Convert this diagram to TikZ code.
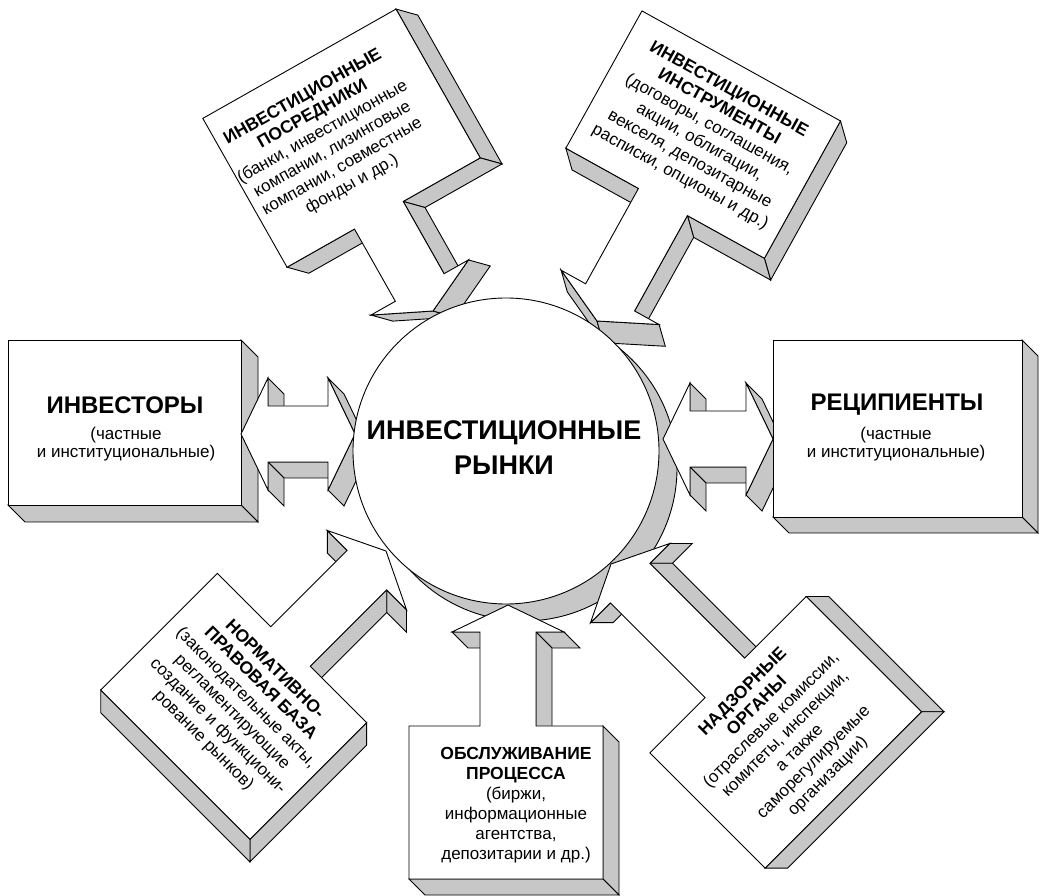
\documentclass[tikz,border=0pt]{standalone}
\usepackage{fontspec}
\setmainfont{Liberation Sans}
\usepackage{tikz}

% extruded box: lower left (#1,#2), upper right (#3,#4), depth #5
\newcommand{\solidbox}[5]{%
  \draw[sideface] (#3,#4) -- (#3,#2) -- (#3+#5,#2-#5) -- (#3+#5,#4-#5) -- cycle;
  \draw[sideface] (#3,#2) -- (#1,#2) -- (#1+#5,#2-#5) -- (#3+#5,#2-#5) -- cycle;
  \draw[frontface] (#1,#2) rectangle (#3,#4);
}

% double block arrow, half length #1
\newcommand{\dblarrow}[1]{%
  \draw[sideface] (-#1+27,56) -- (-#1+27,28) -- (-#1+43,12) -- (-#1+43,40) -- cycle;
  \draw[sideface] (#1-27,56) -- (#1,0) -- (#1+16,-16) -- (#1-11,40) -- cycle;
  \draw[sideface] (#1-27,-28) -- (-#1+27,-28) -- (-#1+43,-44) -- (#1-11,-44) -- cycle;
  \draw[sideface] (-#1+27,-28) -- (-#1+27,-56) -- (-#1+43,-72) -- (-#1+43,-44) -- cycle;
  \draw[sideface] (#1,0) -- (#1-27,-56) -- (#1-11,-72) -- (#1+16,-16) -- cycle;
  \draw[frontface] (-#1,0) -- (-#1+27,56) -- (-#1+27,28) -- (#1-27,28) -- (#1-27,56) -- (#1,0)
    -- (#1-27,-56) -- (#1-27,-28) -- (-#1+27,-28) -- (-#1+27,-56) -- cycle;
}

% sign below the tip: box from #1 to #2, height #3, stem #4
\newcommand{\signup}[4]{%
  \pgfmathsetmacro{\sgyb}{-27-#4}
  \pgfmathsetmacro{\sgyl}{\sgyb-#3}
  \draw[sideface] (56,-27) -- (28,-27) -- (44,-43) -- (72,-43) -- cycle;
  \draw[sideface] (-28,-27) -- (-56,-27) -- (-40,-43) -- (-12,-43) -- cycle;
  \draw[sideface] (28,-27) -- (28,\sgyb) -- (44,\sgyb-16) -- (44,-43) -- cycle;
  \draw[sideface] (#2,\sgyb) -- (#2,\sgyl) -- (#2+16,\sgyl-16) -- (#2+16,\sgyb-16) -- cycle;
  \draw[sideface] (#2,\sgyl) -- (#1,\sgyl) -- (#1+16,\sgyl-16) -- (#2+16,\sgyl-16) -- cycle;
  \draw[frontface] (0,0) -- (56,-27) -- (28,-27) -- (28,\sgyb) -- (#2,\sgyb) -- (#2,\sgyl)
    -- (#1,\sgyl) -- (#1,\sgyb) -- (-28,\sgyb) -- (-28,-27) -- (-56,-27) -- cycle;
}

% sign above the tip: box from #1 to #2, height #3, stem #4
\newcommand{\signdown}[4]{%
  \pgfmathsetmacro{\sgyb}{27+#4}
  \pgfmathsetmacro{\sgyt}{\sgyb+#3}
  \draw[sideface] (0,0) -- (-56,27) -- (-40,11) -- (16,-16) -- cycle;
  \draw[sideface] (-28,\sgyb) -- (#1,\sgyb) -- (#1+16,\sgyb-16) -- (-12,\sgyb-16) -- cycle;
  \draw[sideface] (#2,\sgyt) -- (#2,\sgyb) -- (#2+16,\sgyb-16) -- (#2+16,\sgyt-16) -- cycle;
  \draw[sideface] (#2,\sgyb) -- (28,\sgyb) -- (44,\sgyb-16) -- (#2+16,\sgyb-16) -- cycle;
  \draw[sideface] (28,\sgyb) -- (28,27) -- (44,11) -- (44,\sgyb-16) -- cycle;
  \draw[sideface] (56,27) -- (0,0) -- (16,-16) -- (72,11) -- cycle;
  \draw[frontface] (0,0) -- (-56,27) -- (-28,27) -- (-28,\sgyb) -- (#1,\sgyb) -- (#1,\sgyt)
    -- (#2,\sgyt) -- (#2,\sgyb) -- (28,\sgyb) -- (28,27) -- (56,27) -- cycle;
}

\newcommand{\signhead}[1]{{\fontsize{17.5}{20}\selectfont\bfseries #1}}

\begin{document}
\begin{tikzpicture}[x=1pt, y=1pt,
    frontface/.style={draw, fill=white, line width=0.9pt, line join=miter},
    sideface/.style={draw, fill=black!22, line width=0.9pt, line join=miter},
    boxtitle/.style={font=\fontsize{24}{28}\selectfont\bfseries, inner sep=0pt},
    boxnote/.style={font=\fontsize{17}{18}\selectfont, align=center, inner sep=0pt},
    midtext/.style={font=\fontsize{27}{35}\selectfont\bfseries, align=center, inner sep=0pt},
    signtext/.style={font=\fontsize{17}{20}\selectfont, align=center, inner sep=0pt}]
    \fill[white] (0,0) rectangle (1042,895);
    \useasboundingbox (0,0) rectangle (1042,895);

    % investors
    \solidbox{8}{390}{241}{555}{17}
    \begin{scope}[shift={(298,461)}]
      \dblarrow{57}
    \end{scope}

    % shadow of the market
    \draw[sideface] (524,427) circle (153);

    \begin{scope}[shift={(433,584)}, rotate=29.5, transform shape]
      \signdown{-105.5}{116.5}{171}{83}
      \node[signtext] (brokers) at (-8,200) {\signhead{ИНВЕСТИЦИОННЫЕ}\\\signhead{ПОСРЕДНИКИ}\\(банки, инвестиционные\\компании, лизинговые\\компании, совместные\\фонды и др.)};
    \end{scope}

    \begin{scope}[shift={(597,574)}, rotate=-29, transform shape]
      \signdown{-111}{116}{157}{109}
      \node[signtext] (instruments) at (3,216) {\signhead{ИНВЕСТИЦИОННЫЕ}\\\signhead{ИНСТРУМЕНТЫ}\\(договоры, соглашения,\\акции, облигации,\\векселя, депозитарные\\расписки, опционы и др.)};
    \end{scope}

    \begin{scope}[shift={(386,344)}, rotate=-45, transform shape]
      \signup{-103.4}{107.6}{165}{108}
      \node[signtext] (lawbase) at (5,-213) {\signhead{НОРМАТИВНО-}\\\signhead{ПРАВОВАЯ БАЗА}\\(законодательные акты,\\регламентирующие\\создание и функциони-\\рование рынков)};
    \end{scope}

    \begin{scope}[shift={(508,290)}, transform shape]
      \signup{-99}{95}{153}{94}
      \node[signtext] (service) at (8,-200) {\signhead{ОБСЛУЖИВАНИЕ}\\\signhead{ПРОЦЕССА}\\(биржи,\\информационные\\агентства,\\депозитарии и др.)};
    \end{scope}

    \begin{scope}[shift={(611,331)}, rotate=45, transform shape]
      \signup{-106}{115}{163}{134}
      \node[signtext] (oversight) at (3,-244) {\signhead{НАДЗОРНЫЕ}\\\signhead{ОРГАНЫ}\\(отраслевые комиссии,\\комитеты, инспекции,\\а также\\саморегулируемые\\организации)};
    \end{scope}

    \begin{scope}[shift={(718,456)}]
      \dblarrow{55}
    \end{scope}

    % the market
    \draw[frontface] (506,444) circle (153);
    \node[midtext] (market) at (504,447) {ИНВЕСТИЦИОННЫЕ\\РЫНКИ};

    % recipients
    \solidbox{773}{378}{1022}{555}{16}

    \node[boxtitle] (invtitle) at (125,490) {ИНВЕСТОРЫ};
    \node[boxnote] (invnote) at (126,451) {(частные\\и институциональные)};
    \node[boxtitle] (rectitle) at (897,490) {РЕЦИПИЕНТЫ};
    \node[boxnote] (recnote) at (896,451) {(частные\\и институциональные)};
\end{tikzpicture}
\end{document}
